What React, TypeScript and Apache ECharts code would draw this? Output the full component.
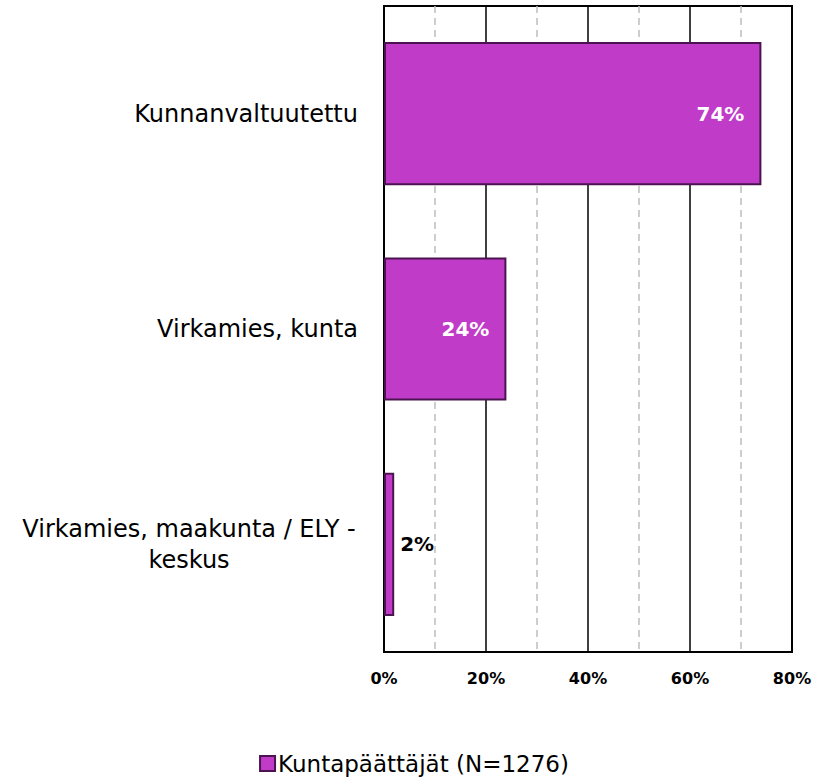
import React, { useEffect, useRef } from "react";
import * as echarts from "echarts";

const categories = ["Kunnanvaltuutettu", "Virkamies, kunta", "Virkamies, maakunta / ELY -\nkeskus"];
const values = [74, 24, 2];
const seriesName = "Kuntapäättäjät (N=1276)";
const xTicks = [0, 20, 40, 60, 80];

const FONT = "'DejaVu Sans', Tahoma, sans-serif";

export default function App() {
  const ref = useRef<HTMLDivElement>(null);
  useEffect(() => {
    document.body.style.margin = "0";
    const chart = echarts.init(ref.current!, null, { renderer: "svg" });
    chart.setOption({
      animation: false,
      textStyle: { fontFamily: FONT },
      grid: { left: 384, right: 36, top: 6, bottom: 128, show: true, borderColor: "#000", borderWidth: 2 },
      xAxis: {
        type: "value",
        min: xTicks[0],
        max: xTicks[xTicks.length - 1],
        interval: 20,
        axisLine: { show: false },
        axisTick: { show: false },
        axisLabel: { formatter: "{value}%", color: "#000", fontWeight: "bold", fontSize: 16, margin: 18, fontFamily: FONT },
        splitLine: { show: true, lineStyle: { color: "#000", width: 1.5 } },
        minorTick: { show: false, splitNumber: 2 },
        minorSplitLine: { show: true, lineStyle: { color: "#bdbdbd", type: [7, 5], width: 1.5 } },
      },
      yAxis: {
        type: "category",
        data: categories,
        inverse: true,
        axisLine: { show: true, lineStyle: { color: "#000", width: 2 } },
        axisTick: { show: false },
        axisLabel: {
          color: "#000",
          fontSize: 24,
          margin: 26,
          fontFamily: FONT,
          lineHeight: 31,
          formatter: (v: string) => {
            if (v.indexOf("\n") >= 0) {
              return v.split("\n").map((l) => `{c|${l}}`).join("\n");
            }
            return v;
          },
          rich: { c: { width: 338, align: "center", fontSize: 24, color: "#000", fontFamily: FONT, lineHeight: 31 } },
        },
      },
      legend: {
        bottom: 0,
        left: "center",
        icon: "rect",
        itemWidth: 15,
        itemHeight: 15,
        itemGap: 4,
        textStyle: { fontSize: 23, color: "#000", fontFamily: FONT, padding: [0, 0, 0, -2] },
      },
      series: [
        {
          name: seriesName,
          type: "bar",
          data: values.map((v) =>
            v < 10
              ? { value: v, label: { position: "right", color: "#000", distance: 6 } }
              : { value: v }
          ),
          barCategoryGap: "33.5%",
          itemStyle: { color: "#C13BC9", borderColor: "#4B1450", borderWidth: 2 },
          label: {
            show: true,
            position: "insideRight",
            formatter: "{c}%",
            fontWeight: "bold",
            fontSize: 20,
            color: "#fff",
            fontFamily: FONT,
            distance: 17,
          },
        },
      ],
    });
    return () => chart.dispose();
  }, []);
  return <div ref={ref} style={{ width: 828, height: 780 }} />;
}
